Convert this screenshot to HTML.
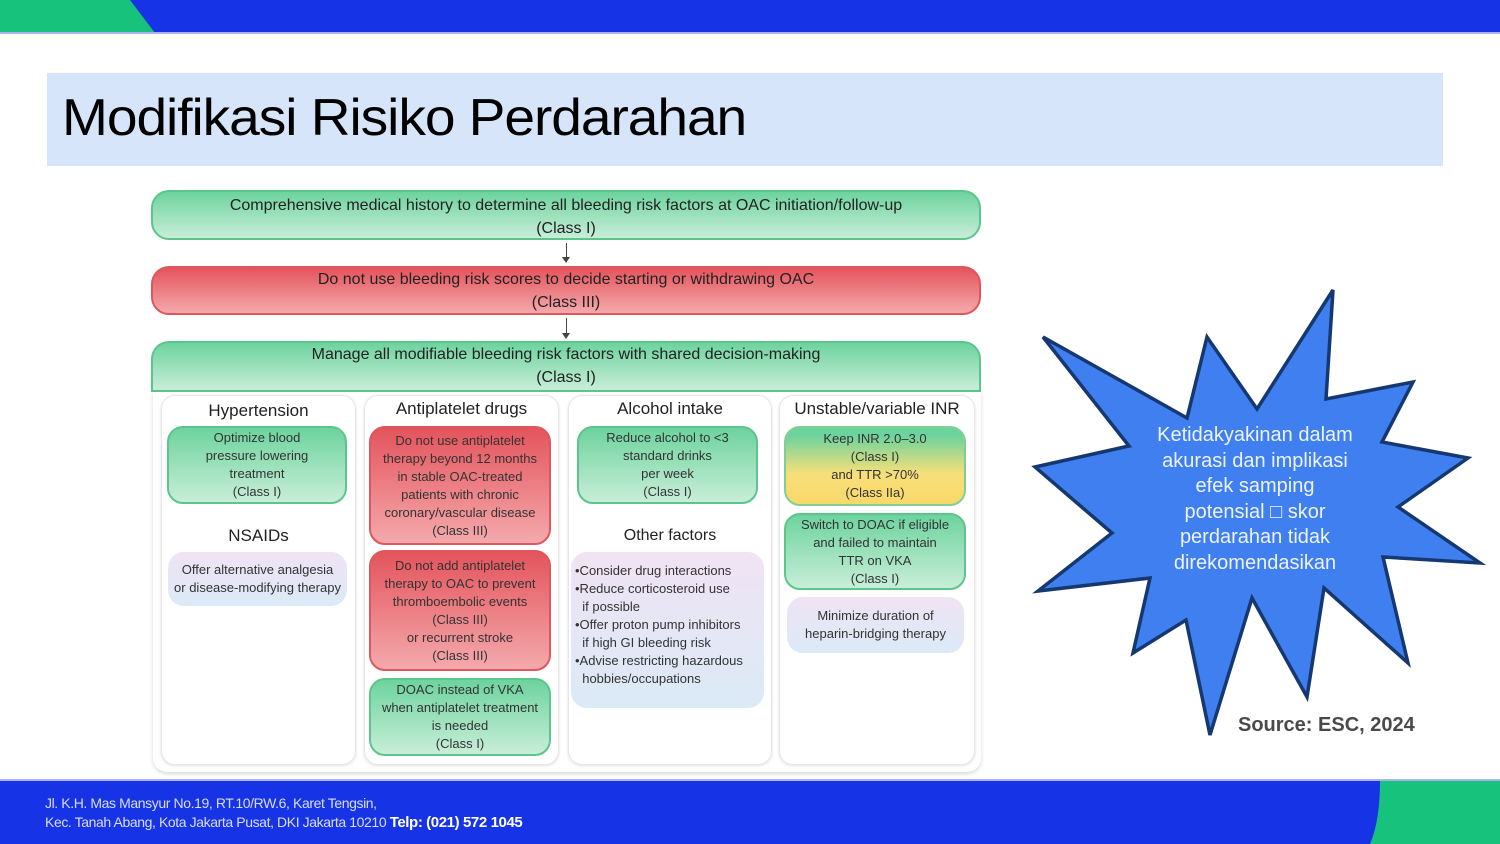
<!DOCTYPE html>
<html><head><meta charset="utf-8"><style>
*{margin:0;padding:0;box-sizing:border-box}
body{width:1500px;height:844px;position:relative;overflow:hidden;background:#fff;font-family:"Liberation Sans",sans-serif}
.a{position:absolute}
.g{background:linear-gradient(#6dd39e,#c8eed8);border:2px solid #5cc58b}
.r{background:linear-gradient(#e4545c,#f4a9ac);border:2px solid #e0565d}
.p{background:linear-gradient(#f0e3f4,#dbeaf7)}
.y{background:linear-gradient(#6dd39e 10%,#f7df7a 60%,#f8d86a);border:2px solid #7fcf95}
.bx{border-radius:16px;text-align:center;font-size:13px;line-height:18px;color:#333;display:flex;flex-direction:column;justify-content:center}
.col{background:#fff;border:1px solid #e6e6e6;border-radius:14px;box-shadow:0 1px 3px rgba(0,0,0,.12)}
.t{font-size:17px;color:#222;text-align:center;width:100%}
.top{font-size:16px;line-height:23px;color:#222;text-align:center}
</style></head><body>
<div class="a" style="left:0;top:0;width:1500px;height:32px;background:#1733e6"></div>
<svg class="a" style="left:0;top:0" width="160" height="33"><polygon points="0,0 130,0 155,33 0,33" fill="#17c27d"/></svg>
<div class="a" style="left:0;top:32px;width:1500px;height:2px;background:#aab5f0"></div>
<div class="a" style="left:47px;top:73px;width:1396px;height:93px;background:#d7e5fb"></div>
<div class="a" style="left:62px;top:88px;font-size:52px;color:#000;letter-spacing:-1px;transform:scaleX(1.06);transform-origin:left">Modifikasi Risiko Perdarahan</div>

<div class="a g top" style="left:151px;top:190px;width:830px;height:50px;border-radius:18px;padding-top:2px">Comprehensive medical history to determine all bleeding risk factors at OAC initiation/follow-up<br>(Class I)</div>
<div class="a" style="left:566px;top:243px;width:1px;height:17px;background:#444"></div>
<div class="a" style="left:562px;top:257px;border:4px solid transparent;border-top:6px solid #444"></div>
<div class="a r top" style="left:151px;top:266px;width:830px;height:49px;border-radius:18px">Do not use bleeding risk scores to decide starting or withdrawing OAC<br>(Class III)</div>
<div class="a" style="left:566px;top:318px;width:1px;height:18px;background:#444"></div>
<div class="a" style="left:562px;top:333px;border:4px solid transparent;border-top:6px solid #444"></div>
<div class="a g top" style="left:151px;top:341px;width:830px;height:51px;border-radius:18px 18px 0 0">Manage all modifiable bleeding risk factors with shared decision-making<br>(Class I)</div>
<div class="a" style="left:153px;top:391px;width:828px;height:381px;border-radius:0 0 14px 14px;box-shadow:0 2px 4px rgba(0,0,0,.15)"></div>

<div class="a col" style="left:161px;top:395px;width:195px;height:370px"></div>
<div class="a col" style="left:364px;top:395px;width:195px;height:370px"></div>
<div class="a col" style="left:568px;top:395px;width:204px;height:370px"></div>
<div class="a col" style="left:779px;top:395px;width:196px;height:370px"></div>

<div class="a t" style="left:161px;top:401px;width:195px">Hypertension</div>
<div class="a bx g" style="left:167px;top:426px;width:180px;height:78px">Optimize blood<br>pressure lowering<br>treatment<br>(Class I)</div>
<div class="a t" style="left:161px;top:526px;width:195px">NSAIDs</div>
<div class="a bx p" style="left:168px;top:552px;width:179px;height:54px">Offer alternative analgesia<br>or disease-modifying therapy</div>

<div class="a t" style="left:364px;top:399px;width:195px">Antiplatelet drugs</div>
<div class="a bx r" style="left:369px;top:426px;width:182px;height:119px">Do not use antiplatelet<br>therapy beyond 12 months<br>in stable OAC-treated<br>patients with chronic<br>coronary/vascular disease<br>(Class III)</div>
<div class="a bx r" style="left:369px;top:550px;width:182px;height:121px">Do not add antiplatelet<br>therapy to OAC to prevent<br>thromboembolic events<br>(Class III)<br>or recurrent stroke<br>(Class III)</div>
<div class="a bx g" style="left:369px;top:678px;width:182px;height:78px">DOAC instead of VKA<br>when antiplatelet treatment<br>is needed<br>(Class I)</div>

<div class="a t" style="left:568px;top:399px;width:204px">Alcohol intake</div>
<div class="a bx g" style="left:577px;top:426px;width:181px;height:78px">Reduce alcohol to &lt;3<br>standard drinks<br>per week<br>(Class I)</div>
<div class="a t" style="left:568px;top:527px;width:204px;font-size:16px">Other factors</div>
<div class="a bx p" style="left:571px;top:552px;width:193px;height:156px;text-align:left;padding-left:4px;justify-content:flex-start;padding-top:10px">•Consider drug interactions<br>•Reduce corticosteroid use<br>&nbsp; if possible<br>•Offer proton pump inhibitors<br>&nbsp; if high GI bleeding risk<br>•Advise restricting hazardous<br>&nbsp; hobbies/occupations</div>

<div class="a t" style="left:779px;top:399px;width:196px">Unstable/variable INR</div>
<div class="a bx y" style="left:784px;top:426px;width:182px;height:80px">Keep INR 2.0–3.0<br>(Class I)<br>and TTR &gt;70%<br>(Class IIa)</div>
<div class="a bx g" style="left:784px;top:513px;width:182px;height:77px">Switch to DOAC if eligible<br>and failed to maintain<br>TTR on VKA<br>(Class I)</div>
<div class="a bx p" style="left:787px;top:597px;width:177px;height:56px">Minimize duration of<br>heparin-bridging therapy</div>

<svg class="a" style="left:0;top:0" width="1500" height="844">
<polygon points="1043,337 1187,418 1207,337 1257,409 1333,290 1326,399 1413,382 1382,442 1468,458 1398,507 1480,563 1383,557 1408,663 1324,588 1307,697 1252,598 1210,735 1186,620 1133,653 1150,578 1038,591 1112,533 1035,467 1129,446" fill="#3f7ff0" stroke="#163870" stroke-width="3.5" stroke-linejoin="miter"/>
</svg>
<div class="a" style="left:1130px;top:423px;width:250px;text-align:center;color:#eef3ff;font-size:20px;line-height:25.6px">Ketidakyakinan dalam<br>akurasi dan implikasi<br>efek samping<br>potensial &#9633; skor<br>perdarahan tidak<br>direkomendasikan</div>
<div class="a" style="left:1238px;top:714px;font-size:20px;font-weight:bold;color:#4a4a4a">Source: ESC, 2024</div>

<div class="a" style="left:0;top:779px;width:1500px;height:2px;background:#aab5f0"></div>
<div class="a" style="left:0;top:781px;width:1500px;height:63px;background:#1733e6"></div>
<svg class="a" style="left:1370px;top:781px" width="130" height="63"><path d="M10,0 L130,0 L130,63 L0,63 Q10,40 10,0Z" fill="#17c27d"/></svg>
<div class="a" style="left:45px;top:794px;color:#d8defc;font-size:14px;line-height:19px;letter-spacing:-.4px">Jl. K.H. Mas Mansyur No.19, RT.10/RW.6, Karet Tengsin,<br>Kec. Tanah Abang, Kota Jakarta Pusat, DKI Jakarta 10210 <b style="color:#fff;font-size:15px">Telp: (021) 572 1045</b></div>
</body></html>
